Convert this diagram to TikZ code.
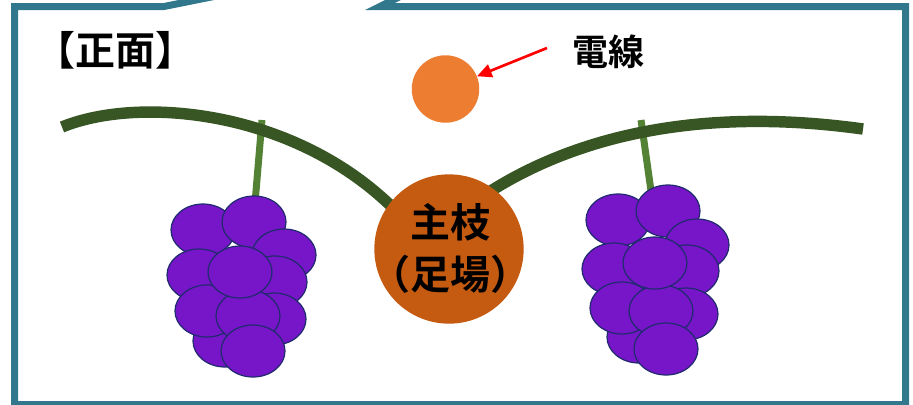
\documentclass[tikz,border=0pt]{standalone}
\usepackage{fontspec}
\usetikzlibrary{arrows.meta}
\newfontfamily\jpfont{Noto Sans CJK JP}[BoldFont={Noto Sans CJK JP Bold}]

\definecolor{frameteal}{RGB}{50,120,140}
\definecolor{vinegreen}{RGB}{55,86,35}
\definecolor{stemgreen}{RGB}{84,130,53}
\definecolor{wireorange}{RGB}{237,125,49}
\definecolor{trunkorange}{RGB}{197,90,17}
\definecolor{grapefill}{RGB}{118,22,200}
\definecolor{grapeline}{RGB}{32,42,110}

\tikzset{
  frameline/.style={draw=frameteal, line width=5.25pt, line join=miter},
  vine/.style={draw=vinegreen, line width=8.6pt},
  stem/.style={draw=stemgreen, line width=5.25pt},
  berry/.style={fill=grapefill, draw=grapeline, line width=0.9pt},
  label/.style={font=\jpfont\bfseries, text=black, inner sep=0pt},
  pointer/.style={draw=red, line width=2pt, -{Triangle[length=11pt,width=10pt]}},
}

\begin{document}
\begin{tikzpicture}[x=0.75pt,y=-0.75pt]
  \useasboundingbox (0,0) rectangle (913,404);
  \clip (0,0) rectangle (913,404);
  \fill[white] (0,0) rectangle (913,404);

  % speech-bubble frame with its pointer running off the top edge
  \draw[frameline] (14.5,6.5) -- (164,6.5) -- (525,-66) -- (380,6.5)
        -- (905.5,6.5) -- (905.5,404.5) -- (14.5,404.5) -- cycle;

  % stems of the two bunches
  \coordinate (ls1) at (262,120);
  \coordinate (ls2) at (254,215);
  \coordinate (rs1) at (641,120);
  \coordinate (rs2) at (653,205);
  \draw[stem] (ls1) -- (ls2);
  \draw[stem] (rs1) -- (rs2);

  % the vine, two arms meeting in the trunk
  \coordinate (vl0) at (62,127);
  \coordinate (vl1) at (400,215);
  \coordinate (vr0) at (470,205);
  \coordinate (vr1) at (863,129);
  \draw[vine] (vl0) .. controls (140,95) and (300,110) .. (vl1);
  \draw[vine] (vr0) .. controls (560,140) and (690,105) .. (vr1);

  % trunk (standing point)
  \node[circle, fill=trunkorange, minimum size=112pt, inner sep=0pt] (trunk) at (449,249) {};
  \node[label, font=\jpfont\bfseries\fontsize{30pt}{36pt}\selectfont] (trunkA) at (450,222) {主枝};
  \node[label, font=\jpfont\bfseries\fontsize{30pt}{36pt}\selectfont] (trunkB) at (450,274) {（足場）};

  % power line and its label
  \node[circle, fill=wireorange, minimum size=50.6pt, inner sep=0pt] (wire) at (445.5,89) {};
  \node[label, font=\jpfont\bfseries\fontsize{27pt}{32pt}\selectfont] (wirelabel) at (608,52) {電線};
  \coordinate (ptail) at (547,48);
  \draw[pointer] (ptail) -- (wire);

  % view caption
  \node[label, font=\jpfont\bfseries\fontsize{30pt}{36pt}\selectfont] (view) at (115,50) {【正面】};

  % left bunch
  \foreach \x/\y in {203/230, 254/222, 284/255, 199/275, 275/282, 274/319,
                     225/341, 207/311, 248/316, 253/351, 240/272}
    \draw[berry] (\x,\y) ellipse [x radius=32, y radius=26];

  % right bunch
  \foreach \x/\y in {618/220, 668/211, 697/245, 614/269, 687/271, 686/314,
                     639/337, 622/308, 661/311, 666/349, 655/263}
    \draw[berry] (\x,\y) ellipse [x radius=32, y radius=26];
\end{tikzpicture}
\end{document}
